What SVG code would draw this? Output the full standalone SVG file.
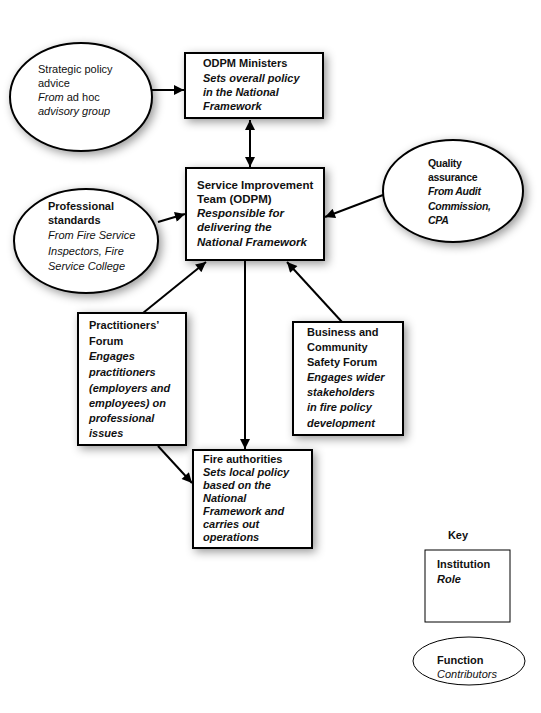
<svg xmlns="http://www.w3.org/2000/svg" width="541" height="713" viewBox="0 0 541 713">
<defs>
<filter id="sh" x="-30%" y="-30%" width="160%" height="160%">
<feDropShadow dx="3" dy="3" stdDeviation="5" flood-color="#000" flood-opacity="0.4"/>
</filter>
<marker id="ah" viewBox="0 0 10 10" refX="10" refY="5" markerWidth="5.5" markerHeight="5" orient="auto-start-reverse" markerUnits="strokeWidth">
<path d="M0,0 L10,5 L0,10 z" fill="#000"/>
</marker>
<style>
text{font-family:"Liberation Sans",Arial,sans-serif;font-size:11px;fill:#111}
.b{font-weight:bold}
.i{font-style:italic}
.bi{font-weight:bold;font-style:italic}
.box{fill:#fff;stroke:#000;stroke-width:2}
.shd{filter:url(#sh)}
.ln{stroke:#000;stroke-width:2;fill:none;marker-end:url(#ah)}
.s115{font-size:11.5px}
.s105{font-size:10.5px;letter-spacing:-0.3px}
</style>
</defs>
<rect width="541" height="713" fill="#fff"/>

<g id="connectors">
<line class="ln" x1="152" y1="90" x2="184" y2="90"/>
<line class="ln" x1="250" y1="120" x2="250" y2="167" style="marker-start:url(#ah)"/>
<line class="ln" x1="158" y1="222" x2="185" y2="214"/>
<line class="ln" x1="383" y1="195" x2="325" y2="217"/>
<line class="ln" x1="143" y1="313" x2="206" y2="262"/>
<line class="ln" x1="342" y1="322" x2="287" y2="262"/>
<line class="ln" x1="245" y1="261" x2="245" y2="449"/>
<line class="ln" x1="158" y1="446" x2="192" y2="483"/>
</g>

<g id="strategic">
<ellipse class="box shd" cx="81" cy="97" rx="71" ry="54"/>
<text x="38" y="73">Strategic policy</text>
<text x="38" y="87">advice</text>
<text x="38" y="101"><tspan class="i">From</tspan> ad hoc</text>
<text x="38" y="115" class="i">advisory group</text>
</g>

<g id="odpm">
<rect class="box shd" x="185" y="53" width="138" height="65"/>
<text x="203" y="67" class="b">ODPM Ministers</text>
<text x="203" y="82" class="bi">Sets overall policy</text>
<text x="203" y="96" class="bi">in the National</text>
<text x="203" y="110" class="bi">Framework</text>
</g>

<g id="sit">
<rect class="box shd" x="186" y="168" width="138" height="92"/>
<text x="197" y="189" class="b s115">Service Improvement</text>
<text x="197" y="203" class="b s115">Team (ODPM)</text>
<text x="197" y="217" class="bi s115">Responsible for</text>
<text x="197" y="231" class="bi s115">delivering the</text>
<text x="197" y="246" class="bi s115">National Framework</text>
</g>

<g id="professional">
<ellipse class="box shd" cx="86" cy="241" rx="72" ry="52"/>
<text x="48" y="210" class="b">Professional</text>
<text x="48" y="224" class="b">standards</text>
<text x="48" y="239" class="i">From Fire Service</text>
<text x="48" y="255" class="i">Inspectors, Fire</text>
<text x="48" y="270" class="i">Service College</text>
</g>

<g id="quality">
<ellipse class="box shd" cx="453" cy="191" rx="70" ry="51"/>
<text x="428" y="167" class="b s105">Quality</text>
<text x="428" y="181" class="b s105">assurance</text>
<text x="428" y="195" class="bi s105">From Audit</text>
<text x="428" y="210" class="bi s105">Commission,</text>
<text x="428" y="224" class="bi s105">CPA</text>
</g>

<g id="practitioners">
<rect class="box shd" x="78" y="313" width="108" height="132"/>
<text x="89" y="329" class="b">Practitioners’</text>
<text x="89" y="345" class="b">Forum</text>
<text x="89" y="360" class="bi">Engages</text>
<text x="89" y="376" class="bi">practitioners</text>
<text x="89" y="392" class="bi">(employers and</text>
<text x="89" y="407" class="bi">employees) on</text>
<text x="89" y="422" class="bi">professional</text>
<text x="89" y="437" class="bi">issues</text>
</g>

<g id="business">
<rect class="box shd" x="293" y="322" width="110" height="113"/>
<text x="307" y="336" class="b">Business and</text>
<text x="307" y="351" class="b">Community</text>
<text x="307" y="366" class="b">Safety Forum</text>
<text x="307" y="381" class="bi">Engages wider</text>
<text x="307" y="396" class="bi">stakeholders</text>
<text x="307" y="411" class="bi">in fire policy</text>
<text x="307" y="427" class="bi">development</text>
</g>

<g id="fire">
<rect class="box shd" x="193" y="450" width="119" height="98"/>
<text x="203" y="463" class="b">Fire authorities</text>
<text x="203" y="476" class="bi">Sets local policy</text>
<text x="203" y="489" class="bi">based on the</text>
<text x="203" y="502" class="bi">National</text>
<text x="203" y="515" class="bi">Framework and</text>
<text x="203" y="528" class="bi">carries out</text>
<text x="203" y="541" class="bi">operations</text>
</g>

<g id="key">
<text x="458" y="539" class="b" text-anchor="middle">Key</text>
<rect x="425" y="550" width="85" height="72" fill="#fff" stroke="#000" stroke-width="1"/>
<text x="437" y="568" class="b">Institution</text>
<text x="437" y="583" class="bi">Role</text>
<ellipse cx="469" cy="661" rx="56" ry="24" fill="#fff" stroke="#000" stroke-width="1"/>
<text x="437" y="664" class="b">Function</text>
<text x="437" y="678" class="i">Contributors</text>
</g>
</svg>
